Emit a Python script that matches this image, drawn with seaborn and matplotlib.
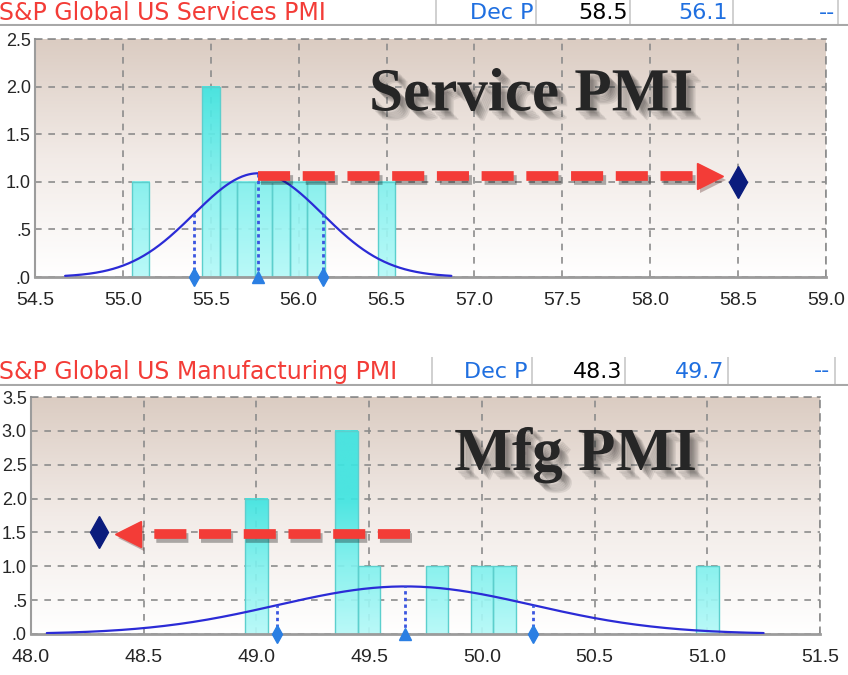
import numpy as np
import matplotlib.pyplot as plt
import matplotlib.patheffects as pe
from matplotlib.colors import LinearSegmentedColormap
from matplotlib.ticker import FuncFormatter, MultipleLocator
import seaborn as sns

# Forecaster estimates (one per survey response) and the actual print
svc_obs = [55.1, 55.5, 55.5, 55.6, 55.7, 55.8, 55.9, 56.0, 56.1, 56.5]
svc_actual = 58.5
svc_header = ["S&P Global US Services PMI", "Dec P", "58.5", "56.1", "--"]

mfg_obs = [49.0, 49.0, 49.4, 49.4, 49.4, 49.5, 49.8, 50.0, 50.1, 51.0]
mfg_actual = 48.3
mfg_header = ["S&P Global US Manufacturing PMI", "Dec P", "48.3", "49.7", "--"]

BIN_W = 0.1
NUM_FONT = ["Liberation Sans", "DejaVu Sans"]
RED = "#f33c37"
BLUE = "#1f6fe0"
GRID = "#8c8c8c"
AXIS = "#9c9c9c"

sns.set_style("white")
plt.rcParams["font.family"] = NUM_FONT

bg_cmap = LinearSegmentedColormap.from_list("bg", ["#ffffff", "#f2ebe7", "#dbccc2"])
bar_cmap = LinearSegmentedColormap.from_list("bar", ["#b4f9f8", "#80f1ee", "#3ee5e1"])

fig = plt.figure(figsize=(8.48, 6.75), dpi=100)


def box(x0, y0, x1, y1):
    # pixel box (top-left origin) -> figure fraction rect
    return [x0 / 848, 1 - y1 / 675, (x1 - x0) / 848, (y1 - y0) / 675]


def header(y0, y1, labels, seps, rights):
    hx = fig.add_axes(box(0, y0, 848, y1))
    hx.set_xlim(0, 848)
    hx.set_ylim(y1 - y0, 0)
    hx.axis("off")
    mid = (y1 - y0) / 2
    hx.text(-1, mid, labels[0], color=RED, fontsize=17, family="DejaVu Sans",
            ha="left", va="center")
    cols = [BLUE, "black", BLUE, BLUE]
    for lab, xr, c in zip(labels[1:], rights, cols):
        hx.text(xr, mid, lab, color=c, fontsize=16, family="DejaVu Sans",
                ha="right", va="center")
    for s in seps:
        hx.plot([s, s], [0, y1 - y0 - 1], color="#c8c8c8", lw=1.2)
    hx.plot([0, 848], [y1 - y0 - 1, y1 - y0 - 1], color="#a8a8a8", lw=1.5)


def pmi_panel(rect, obs, actual, xlim, ymax, title, title_xy, arrow, curve_k):
    ax = fig.add_axes(rect)
    ax.set_axisbelow(True)

    # background gradient
    ax.imshow(np.linspace(0, 1, 256).reshape(-1, 1), extent=(0, 1, 0, 1),
              transform=ax.transAxes, origin="lower", cmap=bg_cmap,
              aspect="auto", zorder=0)

    obs = np.array(obs)
    edges = np.arange(xlim[0] + BIN_W / 2, xlim[1], BIN_W)
    sns.histplot(x=obs, bins=edges, ax=ax, color="#8ef3f1", edgecolor="#5ccfcd",
                 linewidth=1, alpha=1, zorder=2)
    for p in list(ax.patches):
        h = p.get_height()
        if h <= 0:
            p.remove()
            continue
        x0, w = p.get_x(), p.get_width()
        ax.imshow(np.linspace(0, h, 100).reshape(-1, 1), extent=(x0, x0 + w, 0, h),
                  origin="lower", cmap=bar_cmap, vmin=0, vmax=2, aspect="auto",
                  alpha=0.92, zorder=1.8, interpolation="bilinear")
        p.set_facecolor("none")

    # normal fit
    mu, sd = obs.mean(), obs.std()
    scale = len(obs) * BIN_W
    pdf = lambda v: scale * np.exp(-0.5 * ((v - mu) / sd) ** 2) / (sd * np.sqrt(2 * np.pi))
    xs = np.linspace(mu - curve_k * sd, mu + curve_k * sd, 300)
    sns.lineplot(x=xs, y=pdf(xs), ax=ax, color="#2b2bd6", lw=1.6, zorder=4)
    for v, m in [(mu - sd, "d"), (mu, "^"), (mu + sd, "d")]:
        ax.plot([v, v], [0, pdf(v)], ls=(0, (1.2, 1.2)), color="#3b55e0", lw=2, zorder=4)
        ax.plot(v, 0, marker=m, ms=9, color="#2b7fe3", clip_on=False, zorder=6)

    # red arrow from consensus to the actual print
    tail, base, tip_c, ay, direction, dy = arrow
    shadow = [pe.SimpleLineShadow(offset=(2, -3), shadow_color="k", alpha=0.3), pe.Normal()]
    ax.plot([tail, base], [ay, ay], color=RED, lw=7, dashes=(3.3, 1.3),
            solid_capstyle="butt", dash_capstyle="butt", zorder=7, path_effects=shadow)
    ax.plot(tip_c, ay, marker=direction, ms=19, color=RED, mec=RED, zorder=7,
            path_effects=[pe.SimplePatchShadow(offset=(2, -3), alpha=0.3), pe.Normal()])
    ax.plot(actual, dy, marker="d", ms=16, color="#0b1c7d", zorder=8, clip_on=False)

    # title with soft shadow
    shadows = [pe.SimplePatchShadow(offset=(o, -o), shadow_rgbFace="k", alpha=0.08)
               for o in (2, 3, 4, 5, 6, 7)]
    ax.text(title_xy[0], title_xy[1], title, transform=ax.transAxes,
            fontsize=44, fontweight="bold", family="Liberation Serif",
            ha="center", va="baseline", zorder=9, path_effects=shadows + [pe.Normal()])

    ax.set_xlim(*xlim)
    ax.set_ylim(0, ymax)
    ax.xaxis.set_major_locator(MultipleLocator(0.5))
    ax.yaxis.set_major_locator(MultipleLocator(0.5))
    ax.xaxis.set_major_formatter(FuncFormatter(lambda v, _: f"{v:.1f}"))
    ax.yaxis.set_major_formatter(FuncFormatter(
        lambda v, _: f"{v:.1f}"[1:] if abs(v) < 1 else f"{v:.1f}"))
    ax.set_xlabel("")
    ax.set_ylabel("")
    ax.grid(True, color=GRID, ls=(0, (4, 4)), lw=1.2)
    for s in ("top", "right"):
        ax.spines[s].set_color(GRID)
        ax.spines[s].set_linestyle((0, (4, 4)))
        ax.spines[s].set_linewidth(1.2)
    ax.spines["left"].set_color(AXIS)
    ax.spines["left"].set_linewidth(1.5)
    ax.spines["bottom"].set_color(AXIS)
    ax.spines["bottom"].set_linewidth(2)
    ax.tick_params(axis="x", length=4, width=1.5, color=AXIS, pad=7, labelsize=14)
    ax.tick_params(axis="y", length=2, width=1.5, color=AXIS, pad=1, labelsize=13)
    return ax


header(0, 26, svc_header, [436, 536, 630, 733, 838], [533, 628, 728, 835])
pmi_panel(box(35, 39, 826, 277), svc_obs, svc_actual, (54.5, 59.0), 2.5,
          "Service PMI", (0.627, 0.70),
          (55.77, 58.27, 58.34, 1.06, ">", 1.0), 3.0)

header(357, 386, mfg_header, [432, 532, 625, 728, 835], [528, 622, 724, 830])
pmi_panel(box(31, 397, 820, 634), mfg_obs, mfg_actual, (48.0, 51.5), 3.5,
          "Mfg PMI", (0.69, 0.692),
          (49.68, 48.49, 48.43, 1.48, "<", 1.5), 2.8)

fig.savefig("out.png", dpi=100)
